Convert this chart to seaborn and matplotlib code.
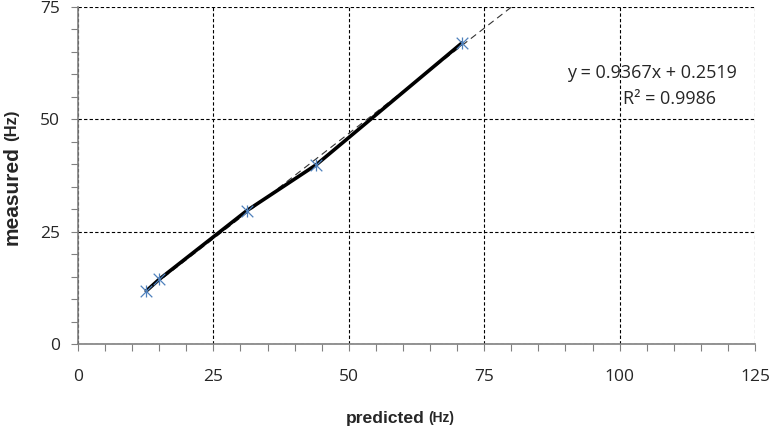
import numpy as np
import pandas as pd
import matplotlib
matplotlib.use("Agg")
import matplotlib.pyplot as plt
import seaborn as sns

# values
predicted = [12.6, 15.0, 31.2, 44.0, 70.9]
measured = [11.8, 14.4, 29.7, 39.9, 67.0]
trend_end = 80
equation = "y = 0.9367x + 0.2519"
r_squared = "R² = 0.9986"
x_ticks = [0, 25, 50, 75, 100, 125]
y_ticks = [0, 25, 50, 75]

df = pd.DataFrame({"predicted": predicted, "measured": measured})

sns.set_style("white")
plt.rcParams["font.family"] = ["Open Sans", "DejaVu Sans"]

fig = plt.figure(figsize=(7.73, 4.28), dpi=100)
ax = fig.add_axes([78 / 773, 1 - 344 / 428, 677 / 773, 337 / 428])

# linear trendline (fitted to the data, extended forward to x=80)
slope, icpt = np.polyfit(df.predicted, df.measured, 1)
tx = np.array([min(predicted), trend_end])
ax.plot(tx, slope * tx + icpt, color="#333333", lw=0.8, ls=(0, (6, 4)), zorder=3)

sns.lineplot(data=df, x="predicted", y="measured", sort=False, color="black",
             lw=2.6, ax=ax, zorder=4)
for m in ["x", "|"]:
    sns.scatterplot(data=df, x="predicted", y="measured", marker=m, s=70,
                    color="#4F81BD", linewidth=0.9, ax=ax, zorder=5)

ax.set_xlim(0, 125)
ax.set_ylim(0, 75)
ax.set_xticks(x_ticks)
ax.set_yticks(y_ticks)
ax.set_xticks(np.arange(0, 126, 5), minor=True)
ax.set_yticks(np.arange(0, 76, 5), minor=True)
ax.tick_params(which="both", direction="out", length=5, width=0.8, color="#808080",
               bottom=True, left=True)
ax.tick_params(axis="x", which="major", labelsize=12.5, pad=13)
ax.tick_params(axis="y", which="major", labelsize=12.5, pad=8)
ax.grid(True, which="major", color="black", lw=0.8, ls=(0, (3, 2)))
ax.set_axisbelow(True)
for s in ["top", "right"]:
    ax.spines[s].set_visible(False)
for s in ["left", "bottom"]:
    ax.spines[s].set_color("#808080")
    ax.spines[s].set_linewidth(1.2)
    ax.spines[s].set_zorder(6)
ax.set_xlabel("")
ax.set_ylabel("")

ax.text(0.848, 0.804, equation, transform=ax.transAxes, fontsize=13, ha="center",
        va="center")
ax.text(0.873, 0.727, r_squared, transform=ax.transAxes, fontsize=13, ha="center",
        va="center")

lab = {"family": ["Liberation Sans", "DejaVu Sans"], "weight": "bold"}
fig.text(425 / 773, 1 - 418 / 428, "predicted", fontsize=12.6, ha="right", va="center", **lab)
fig.text(428 / 773, 1 - 418 / 428, "(Hz)", fontsize=10, ha="left", va="center", **lab)
fig.text(12 / 773, 1 - 245 / 428, "measured", fontsize=15, rotation=90, ha="center",
         va="bottom", **lab)
fig.text(12 / 773, 1 - 141 / 428, "(Hz)", fontsize=12, rotation=90, ha="center",
         va="bottom", **lab)

fig.savefig("out.png", dpi=100)
